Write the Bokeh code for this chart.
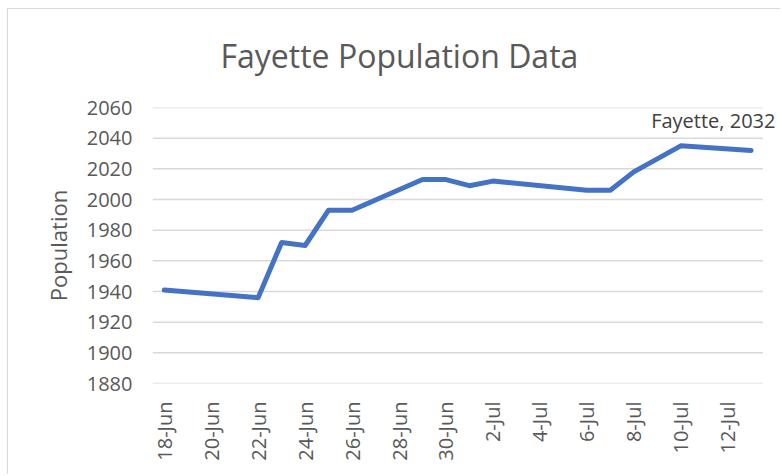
import math
import pandas as pd
from bokeh.plotting import figure
from bokeh.models import Range1d, FixedTicker, CustomJSTickFormatter, Label
from bokeh.embed import file_html
from bokeh.resources import INLINE

# ---- data ----
title_text = "Fayette Population Data"
y_title = "Population"
series_name = "Fayette"
dates = ["2020-06-18", "2020-06-22", "2020-06-23", "2020-06-24", "2020-06-25",
         "2020-06-26", "2020-06-29", "2020-06-30", "2020-07-01", "2020-07-02",
         "2020-07-06", "2020-07-07", "2020-07-08", "2020-07-10", "2020-07-13"]
population = [1941, 1936, 1972, 1970, 1993,
              1993, 2013, 2013, 2009, 2012,
              2006, 2006, 2018, 2035, 2032]
x_tick_dates = ["2020-06-18", "2020-06-20", "2020-06-22", "2020-06-24", "2020-06-26",
                "2020-06-28", "2020-06-30", "2020-07-02", "2020-07-04", "2020-07-06",
                "2020-07-08", "2020-07-10", "2020-07-12"]
y_ticks = [1880, 1900, 1920, 1940, 1960, 1980, 2000, 2020, 2040, 2060]

# ---- styling ----
FONT = "Open Sans"
GREY = "#595959"
GRID = "#d9d9d9"
BLUE = "#4472C4"

DAY = 24 * 3600 * 1000
x_dt = pd.to_datetime(dates)
x_ms = [t.value / 1e6 for t in x_dt]
tick_ms = [pd.Timestamp(d).value / 1e6 for d in x_tick_dates]
axis_start = x_ms[0] - 0.5 * DAY
axis_end = x_ms[-1] + 0.5 * DAY
label_room = 0.75 * DAY   # room to the right of the axis so the data label is not clipped

p = figure(width=780, height=474, x_axis_type="datetime",
           x_range=Range1d(axis_start, axis_end + label_room),
           y_range=Range1d(y_ticks[0], y_ticks[-1]),
           output_backend="svg", toolbar_location=None,
           min_border_left=152, min_border_right=0,
           min_border_top=107, min_border_bottom=91)
p.outline_line_color = None
p.border_fill_color = None
p.background_fill_color = None
# chart-area border (left and top edges) drawn behind the transparent canvas
p.styles = {
    "background": ("linear-gradient(#d9d9d9, #d9d9d9) 7px 8px / 100% 1px no-repeat, "
                   "linear-gradient(#d9d9d9, #d9d9d9) 7px 8px / 1px 100% no-repeat, #ffffff"),
}

# title
p.title.text = title_text
p.title.align = "left"
p.title.offset = 68
p.title.standoff = 61
p.title.text_font = FONT
p.title.text_font_size = "32px"
p.title.text_font_style = "normal"
p.title.text_color = GREY

# horizontal gridlines spanning the date axis only
p.segment(x0=[axis_start] * len(y_ticks), y0=y_ticks,
          x1=[axis_end] * len(y_ticks), y1=y_ticks,
          line_color=GRID, line_width=1.5)

p.line(x=x_ms, y=population, line_color=BLUE, line_width=5,
       line_join="round", line_cap="round")

# y axis
p.yaxis.ticker = FixedTicker(ticks=y_ticks)
p.yaxis.axis_line_color = None
p.yaxis.major_tick_line_color = None
p.yaxis.minor_tick_line_color = None
p.yaxis.major_label_standoff = 14
p.yaxis.major_label_text_font = FONT
p.yaxis.major_label_text_font_size = "20px"
p.yaxis.major_label_text_color = GREY
p.yaxis.axis_label = y_title
p.yaxis.axis_label_standoff = 11
p.yaxis.axis_label_text_font = FONT
p.yaxis.axis_label_text_font_size = "22px"
p.yaxis.axis_label_text_font_style = "normal"
p.yaxis.axis_label_text_color = GREY

# x axis
p.xaxis.ticker = FixedTicker(ticks=tick_ms)
p.xaxis.formatter = CustomJSTickFormatter(code="""
const m = ['Jan','Feb','Mar','Apr','May','Jun','Jul','Aug','Sep','Oct','Nov','Dec'];
const d = new Date(tick);
return d.getUTCDate() + '-' + m[d.getUTCMonth()];
""")
p.xaxis.major_label_orientation = math.pi / 2
p.xaxis.axis_line_color = None
p.xaxis.major_tick_line_color = None
p.xaxis.minor_tick_line_color = None
p.xaxis.major_label_standoff = 12
p.xaxis.major_label_text_font = FONT
p.xaxis.major_label_text_font_size = "20px"
p.xaxis.major_label_text_color = GREY

p.xgrid.visible = False
p.ygrid.visible = False

# data label
p.add_layout(Label(x=x_ms[-1], y=population[-1], x_offset=-100, y_offset=30,
                   text=f"{series_name}, {population[-1]}",
                   text_align="left", text_baseline="alphabetic",
                   text_font=FONT, text_font_size="20px", text_color="#404040"))

open("out.html", "w").write(file_html(p, INLINE))
